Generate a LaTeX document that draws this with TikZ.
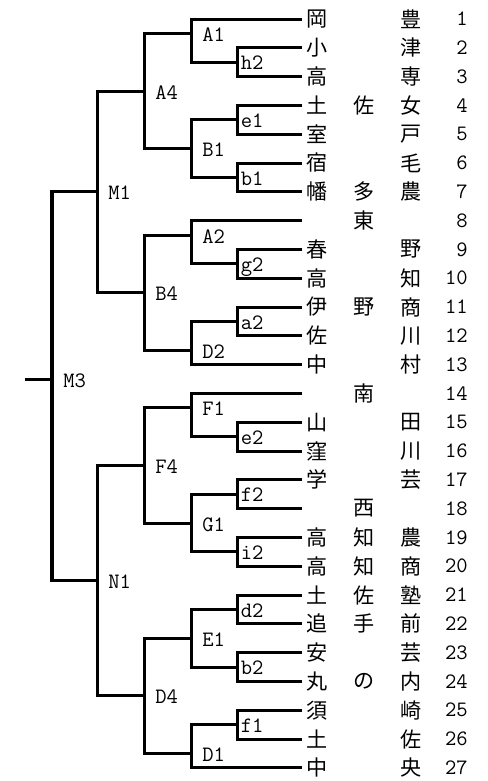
\documentclass[tikz,border=0pt]{standalone}
\usepackage{fontspec}
\newfontfamily\jfont{Noto Sans CJK JP}

\begin{document}
\begin{tikzpicture}[x=0.2mm, y=-5.76mm,
    bracket/.style={black, line width=0.6mm},
    teamchar/.style={inner sep=0, font=\jfont\fontsize{12}{12}\selectfont},
    teamnum/.style={anchor=east, inner sep=0, font=\ttfamily\fontsize{12.5}{12.5}\selectfont},
    mlabel/.style={anchor=west, inner sep=0, text height=7.6pt, text depth=0pt, xshift=2.2mm, yshift=-0.3mm, font=\ttfamily\fontsize{12.5}{12.5}\selectfont},
    plabel/.style={anchor=west, inner sep=0, text height=7.6pt, text depth=0pt, xshift=0.7mm, yshift=-0.2mm, font=\ttfamily\fontsize{12.5}{12.5}\selectfont}]
    \useasboundingbox (0,0.3403) rectangle (488,27.4583);

    % Команды: концы линий, названия и номера
    \foreach \n/\a/\b/\c in {1/岡/{}/豊, 2/小/{}/津, 3/高/{}/専, 4/土/佐/女, 5/室/{}/戸,
        6/宿/{}/毛, 7/幡/多/農, 8/{}/東/{}, 9/春/{}/野, 10/高/{}/知, 11/伊/野/商,
        12/佐/{}/川, 13/中/{}/村, 14/{}/南/{}, 15/山/{}/田, 16/窪/{}/川, 17/学/{}/芸,
        18/{}/西/{}, 19/高/知/農, 20/高/知/商, 21/土/佐/塾, 22/追/手/前, 23/安/{}/芸,
        24/丸/の/内, 25/須/{}/崎, 26/土/{}/佐, 27/中/{}/央} {
        \coordinate (t\n) at (302,\n);
        \node[teamchar] (a\n) at (317,\n) {\a};
        \node[teamchar] (b\n) at (364,\n) {\b};
        \node[teamchar] (c\n) at (411,\n) {\c};
        \node[teamnum] (n\n) at (468,\n) {\n};
    }

    % Точки встреч
    \coordinate (mh2) at (237,2.5);
    \coordinate (mA1) at (191,1.5);
    \coordinate (me1) at (237,4.5);
    \coordinate (mb1) at (237,6.5);
    \coordinate (mB1) at (191,5.5);
    \coordinate (mA4) at (144,3.5);
    \coordinate (mg2) at (237,9.5);
    \coordinate (mA2) at (191,8.5);
    \coordinate (ma2) at (237,11.5);
    \coordinate (mD2) at (191,12.5);
    \coordinate (mB4) at (144,10.5);
    \coordinate (mM1) at (97,7);
    \coordinate (me2) at (237,15.5);
    \coordinate (mF1) at (191,14.5);
    \coordinate (mf2) at (237,17.5);
    \coordinate (mi2) at (237,19.5);
    \coordinate (mG1) at (191,18.5);
    \coordinate (mF4) at (144,16.5);
    \coordinate (md2) at (237,21.5);
    \coordinate (mb2) at (237,23.5);
    \coordinate (mE1) at (191,22.5);
    \coordinate (mf1) at (237,25.5);
    \coordinate (mD1) at (191,26.5);
    \coordinate (mD4) at (144,24.5);
    \coordinate (mN1) at (97,20.5);
    \coordinate (mM3) at (52,13.5);
    \coordinate (final) at (25,13.5);

    % Сетка турнира
    \draw[bracket] (t2) -| (mh2) |- (t3);
    \draw[bracket] (t1) -| (mA1) |- (mh2);
    \draw[bracket] (t4) -| (me1) |- (t5);
    \draw[bracket] (t6) -| (mb1) |- (t7);
    \draw[bracket] (me1) -| (mB1) |- (mb1);
    \draw[bracket] (mA1) -| (mA4) |- (mB1);
    \draw[bracket] (t9) -| (mg2) |- (t10);
    \draw[bracket] (t8) -| (mA2) |- (mg2);
    \draw[bracket] (t11) -| (ma2) |- (t12);
    \draw[bracket] (ma2) -| (mD2) |- (t13);
    \draw[bracket] (mA2) -| (mB4) |- (mD2);
    \draw[bracket] (mA4) -| (mM1) |- (mB4);
    \draw[bracket] (t15) -| (me2) |- (t16);
    \draw[bracket] (t14) -| (mF1) |- (me2);
    \draw[bracket] (t17) -| (mf2) |- (t18);
    \draw[bracket] (t19) -| (mi2) |- (t20);
    \draw[bracket] (mf2) -| (mG1) |- (mi2);
    \draw[bracket] (mF1) -| (mF4) |- (mG1);
    \draw[bracket] (t21) -| (md2) |- (t22);
    \draw[bracket] (t23) -| (mb2) |- (t24);
    \draw[bracket] (md2) -| (mE1) |- (mb2);
    \draw[bracket] (t25) -| (mf1) |- (t26);
    \draw[bracket] (mf1) -| (mD1) |- (t27);
    \draw[bracket] (mE1) -| (mD4) |- (mD1);
    \draw[bracket] (mF4) -| (mN1) |- (mD4);
    \draw[bracket] (mM1) -| (mM3) |- (mN1);
    \draw[bracket] (final) -- (mM3);

    % Подписи встреч
    \node[plabel] (h2) at (mh2) {h2};
    \node[mlabel] (A1) at (mA1) {A1};
    \node[plabel] (e1) at (me1) {e1};
    \node[plabel] (b1) at (mb1) {b1};
    \node[mlabel] (B1) at (mB1) {B1};
    \node[mlabel] (A4) at (mA4) {A4};
    \node[plabel] (g2) at (mg2) {g2};
    \node[mlabel] (A2) at (mA2) {A2};
    \node[plabel] (a2) at (ma2) {a2};
    \node[mlabel] (D2) at (mD2) {D2};
    \node[mlabel] (B4) at (mB4) {B4};
    \node[mlabel] (M1) at (mM1) {M1};
    \node[plabel] (e2) at (me2) {e2};
    \node[mlabel] (F1) at (mF1) {F1};
    \node[plabel] (f2) at (mf2) {f2};
    \node[plabel] (i2) at (mi2) {i2};
    \node[mlabel] (G1) at (mG1) {G1};
    \node[mlabel] (F4) at (mF4) {F4};
    \node[plabel] (d2) at (md2) {d2};
    \node[plabel] (b2) at (mb2) {b2};
    \node[mlabel] (E1) at (mE1) {E1};
    \node[plabel] (f1) at (mf1) {f1};
    \node[mlabel] (D1) at (mD1) {D1};
    \node[mlabel] (D4) at (mD4) {D4};
    \node[mlabel] (N1) at (mN1) {N1};
    \node[mlabel] (M3) at (mM3) {M3};
\end{tikzpicture}
\end{document}
